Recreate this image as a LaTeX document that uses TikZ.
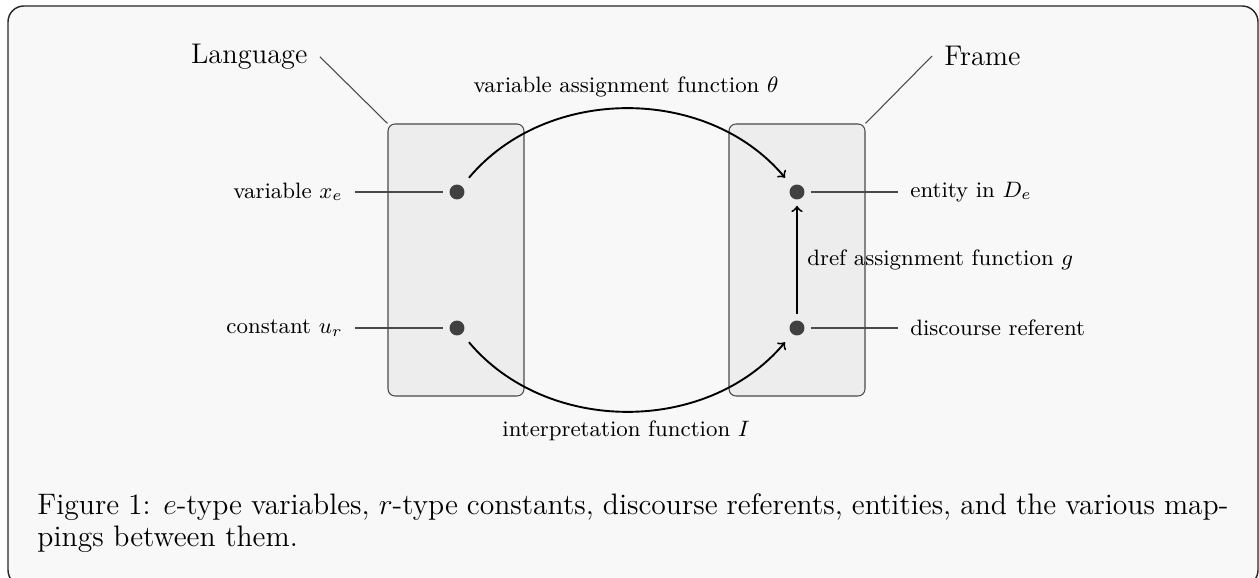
\RequirePackage{fix-cm}
\documentclass[tikz,border=0pt]{standalone}
\usepackage{tikz}
\usetikzlibrary{positioning}
\usepackage{amsmath}
\usepackage{xcolor}
\definecolor{pagebg}{HTML}{F8F8F8}
\definecolor{panefill}{HTML}{EDEDED}
\definecolor{dotgray}{HTML}{404040}
\definecolor{linegray}{HTML}{4A4A4A}

\begin{document}
\begin{tikzpicture}[x=0.422pt, y=-0.422pt,
        every node/.style={font=\fontsize{9.4}{11}\selectfont},
        n/.style={circle, fill=dotgray, minimum size=6.3pt, inner sep=0pt, outer sep=2.7pt},
        pane/.style={draw=linegray, fill=panefill, line width=0.45pt, rounded corners=3pt,
            minimum width=57.4pt, minimum height=114.8pt, inner sep=0pt},
        lbl/.style={inner sep=5pt},
        big/.style={font=\fontsize{12}{14.5}\selectfont, inner sep=5pt},
        link/.style={draw=linegray, line width=0.45pt},
        map/.style={->, thick, shorten <=2pt, shorten >=2pt}]
            \clip (0, 0) rectangle (1259, 578);
            \draw[fill=pagebg, draw=black!85, line width=0.6pt, rounded corners=6.7pt] (8, 6) rectangle (1258, 586);

            \node[pane] (lbox) at (456, 260) {};
            \node[pane] (rbox) at (797, 260) {};

            \node[n] (x) at (457, 192) {};
            \node[n] (u) at (457, 328) {};
            \node[n] (ent) at (797, 192) {};
            \node[n] (dref) at (797, 328) {};

            \node[lbl, anchor=east] (xl) at (355, 192) {variable $x_e$};
            \node[lbl, anchor=east] (ul) at (355, 328) {constant $u_r$};
            \node[lbl, anchor=west] (entl) at (898, 192) {entity in $D_e$};
            \node[lbl, anchor=west] (refl) at (898, 328) {discourse referent};
            \node[lbl, anchor=west] (gl) at (795, 260) {dref assignment function $g$};
            \node (thetal) at (626, 87) {variable assignment function $\theta$};
            \node (il) at (626, 431) {interpretation function $I$};

            \node[big, anchor=base] (lang) at (249.3, 63.5) {Language};
            \node[big, anchor=west] (frame) at (932, 56) {Frame};

            \node[font=\fontsize{12.5}{13.4}\selectfont, inner sep=0pt, anchor=base west, text width=502.6pt, align=justify] (cap) at (37, 515)
                {Figure 1: $e$-type variables, $r$-type constants, discourse referents, entities, and the various map-\linebreak pings between them.};

            \draw[link] (xl) -- (x);
            \draw[link] (ul) -- (u);
            \draw[link] (ent) -- (entl);
            \draw[link] (dref) -- (refl);
            \draw[link] (lang.east) -- (lbox.north west);
            \draw[link] (frame.west) -- (rbox.north east);

            \draw[map] (x) to[bend left=50] (ent);
            \draw[map] (u) to[bend right=50] (dref);
            \draw[->, thick] (dref) -- (ent);
        \end{tikzpicture}
\end{document}
